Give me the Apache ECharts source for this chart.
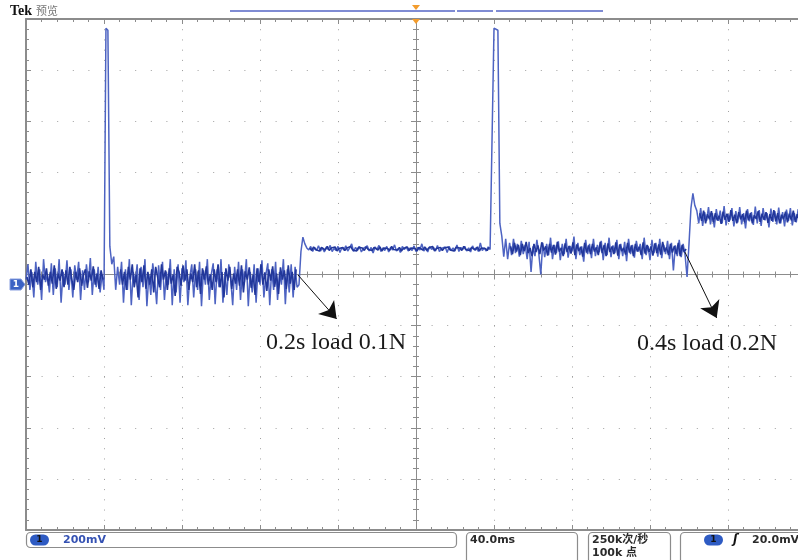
<!DOCTYPE html>
<html><head><meta charset="utf-8">
<script src="https://cdn.jsdelivr.net/npm/echarts@6/dist/echarts.min.js"></script>
<style>html,body{margin:0;padding:0;background:#fff}#c{width:798px;height:560px}</style>
</head><body><div id="c"></div>
<script>
// Time axis: ms relative to trigger (screen centre), 40 ms/div. Value axis: divisions (200 mV/div).
const timeTicksMs = [-200, 200, 40];   // min, max, interval
const voltTicksDiv = [-5, 5, 1];

// Peak-detect samples (outer trace), 1 ms apart, each segment with its start time (ms)
const segA_t0 = -200;
const segA = [-0.1,0.2,-0.3,0.05,-0.45,0.25,-0.2,0.1,-0.5,0.3,
  -0.15,0.0,-0.35,0.22,-0.4,0.12,-0.25,0.3,-0.55,0.05,
  -0.2,0.28,-0.3,0.1,-0.45,0.18,-0.1,0.25,-0.5,0.08,
  -0.3,0.2,-0.15,0.32,-0.4,0.1,-0.25,0.15,-0.35,0.0];
const spike1_t0 = -160;
const spike1 = [-0.3,4.82,4.78,0.55,0.2,0.35,-0.3,0.15];
const segB_t0 = -152;
const segB = [-0.2,0.25,-0.55,0.1,-0.3,0.3,-0.6,0.05,-0.15,0.2,
  -0.5,0.15,-0.25,0.3,-0.62,0.0,-0.4,0.22,-0.1,-0.58,
  0.18,-0.3,0.25,-0.5,0.05,-0.2,0.3,-0.6,0.1,-0.35,
  0.2,-0.55,0.12,-0.15,0.28,-0.6,-0.05,0.2,-0.45,0.1,
  -0.3,0.25,-0.62,0.08,-0.2,0.3,-0.5,0.0,0.22,-0.58,
  0.1,-0.25,0.3,-0.55,0.05,-0.4,0.2,-0.1,-0.6,0.15,
  -0.3,0.25,-0.5,0.1,-0.15,0.3,-0.62,0.05,-0.35,0.2,
  -0.55,0.12,-0.2,0.28,-0.45,0.0,0.22,-0.6,0.1,-0.3,
  0.25,-0.5,0.05,-0.2,0.3,-0.58,0.1,-0.35,0.2,-0.45,
  0.15,-0.25];
const step1_t0 = -60;
const step1 = [-0.2,0.45,0.73,0.6,0.52];
const segC_t0 = -55;
const segC = [0.48,0.55,0.45,0.53,0.47,0.56,0.46,0.52,0.44,0.54,
  0.49,0.57,0.45,0.51,0.47,0.55,0.43,0.53,0.48,0.56,
  0.46,0.52,0.6,0.45,0.53,0.47,0.55,0.44,0.51,0.48,
  0.56,0.46,0.53,0.42,0.54,0.49,0.57,0.45,0.52,0.47,
  0.55,0.44,0.53,0.48,0.58,0.46,0.51,0.43,0.55,0.49,
  0.54,0.46,0.52,0.47,0.56,0.45,0.53,0.48,0.6,0.46,
  0.52,0.44,0.55,0.49,0.53,0.46,0.57,0.45,0.51,0.48,
  0.54,0.43,0.55,0.47,0.52,0.46,0.58,0.45,0.53,0.49,
  0.55,0.46,0.52,0.44,0.56,0.48,0.53,0.45,0.62,0.47,
  0.52,0.46,0.54,0.49];
const spike2_t0 = 39;
const spike2 = [0.48,4.82,4.8,4.78,1.0,0.75,0.35,0.7,0.3];
const segD_t0 = 48;
const segD = [0.62,0.38,0.7,0.42,0.6,0.35,0.66,0.4,0.58,0.3,
  0.64,0.05,0.55,0.36,0.68,0.4,0.0,0.62,0.34,0.6,
  0.38,0.72,0.3,0.58,0.42,0.65,0.28,0.6,0.4,0.7,
  0.33,0.56,0.45,0.74,0.3,0.62,0.38,0.55,0.25,0.68,
  0.4,0.6,0.32,0.7,0.36,0.58,0.44,0.66,0.28,0.62,
  0.38,0.72,0.34,0.57,0.42,0.68,0.3,0.6,0.36,0.64,
  0.26,0.7,0.4,0.58,0.33,0.66,0.45,0.6,0.3,0.72,
  0.38,0.56,0.28,0.68,0.42,0.62,0.35,0.7,0.32,0.58,
  0.4,0.66,0.3,0.62,0.08,0.57,0.36,0.68,0.34,0.6,
  0.38,-0.05];
const step2_t0 = 140;
const step2 = [0.6,1.3,1.59,1.35,1.25];
const segE_t0 = 145;
const segE = [1.0,1.3,0.95,1.22,1.05,1.32,0.98,1.2,0.92,1.28,
  1.05,1.25,1.0,1.34,0.96,1.18,1.06,1.3,0.94,1.24,
  1.02,1.32,0.98,1.2,0.9,1.28,1.04,1.22,0.97,1.33,
  1.0,1.26,0.95,1.3,1.06,1.2,0.92,1.29,1.03,1.24,
  0.98,1.31,1.0,1.22,0.94,1.27,1.05,1.3,0.96,1.2,
  1.02,1.28,0.97,1.25,1.0,1.3];

// Dark core samples, 1 ms apart, starting half a millisecond later
const coreA_t0 = -199.5;
const coreA = [-0.05,-0.2,0.1,-0.25,0.05,-0.15,0.15,-0.3,0.0,-0.1,
  0.12,-0.22,0.05,-0.18,0.18,-0.28,0.02,-0.12,0.1,-0.25,
  0.08,-0.2,0.15,-0.1,-0.3,0.05,-0.15,0.12,-0.22,0.0,
  0.1,-0.26,0.06,-0.12,0.16,-0.2,0.02,-0.28,0.08,-0.1];
const coreB_t0 = -151.5;
const coreB = [0.1,-0.2,0.05,-0.3,0.15,-0.1,0.2,-0.25,0.0,-0.45,
  0.12,-0.15,0.18,-0.28,0.05,-0.2,0.1,-0.35,0.15,-0.05,
  -0.25,0.2,-0.1,0.08,-0.3,0.12,-0.18,0.0,-0.42,0.15,
  0.05,-0.22,0.18,-0.12,0.1,-0.3,0.02,-0.15,0.2,-0.25,
  0.08,-0.38,0.12,-0.1,0.16,-0.2,0.0,-0.3,0.1,-0.15,
  0.2,-0.25,0.05,-0.45,0.12,-0.12,0.15,-0.28,0.02,-0.18,
  0.1,-0.22,0.18,-0.35,0.06,-0.1,0.14,-0.26,0.0,-0.4,
  0.12,-0.15,0.2,-0.2,0.04,-0.32,0.1,-0.12,0.16,-0.24,
  0.02,-0.38,0.14,-0.1,0.08,-0.28,0.18,-0.18,0.05,-0.3,
  0.1];
const coreC_t0 = -54.5;
const coreC = [0.52,0.47,0.54,0.49,0.51,0.46,0.53,0.5,0.48,0.55,
  0.47,0.52,0.49,0.54,0.46,0.51,0.5,0.53,0.47,0.52,
  0.49,0.55,0.48,0.51,0.46,0.53,0.5,0.52,0.47,0.54,
  0.49,0.51,0.47,0.53,0.5,0.48,0.54,0.46,0.52,0.49,
  0.51,0.47,0.55,0.49,0.52,0.48,0.53,0.46,0.51,0.5,
  0.54,0.47,0.52,0.49,0.51,0.46,0.53,0.5,0.48,0.54,
  0.47,0.52,0.49,0.55,0.46,0.51,0.5,0.53,0.47,0.52,
  0.49,0.54,0.48,0.51,0.46,0.53,0.5,0.52,0.47,0.55,
  0.49,0.51,0.47,0.53,0.5,0.48,0.54,0.46,0.52,0.49,
  0.51,0.47,0.53];
const coreD_t0 = 48.5;
const coreD = [0.55,0.4,0.62,0.45,0.58,0.38,0.6,0.46,0.64,0.42,
  0.52,0.36,0.6,0.44,0.57,0.4,0.63,0.47,0.55,0.37,
  0.6,0.43,0.58,0.39,0.64,0.45,0.52,0.36,0.61,0.44,
  0.56,0.41,0.63,0.38,0.59,0.46,0.54,0.35,0.62,0.43,
  0.57,0.4,0.6,0.45,0.53,0.38,0.64,0.42,0.58,0.36,
  0.61,0.44,0.55,0.4,0.63,0.37,0.59,0.46,0.52,0.39,
  0.62,0.43,0.57,0.36,0.6,0.45,0.54,0.38,0.63,0.41,
  0.58,0.44,0.55,0.37,0.61,0.42,0.59,0.39,0.64,0.45,
  0.53,0.38,0.6,0.43,0.56,0.4,0.62,0.36,0.58,0.44,
  0.5];
const coreE_t0 = 145.5;
const coreE = [1.2,1.05,1.25,1.0,1.18,1.08,1.24,1.02,1.2,1.06,
  1.15,0.99,1.23,1.07,1.19,1.03,1.26,1.05,1.17,1.0,
  1.22,1.08,1.18,1.02,1.25,1.06,1.2,1.0,1.16,1.09,
  1.24,1.03,1.19,1.07,1.22,1.01,1.18,1.05,1.26,1.04,
  1.2,1.0,1.17,1.08,1.23,1.02,1.19,1.06,1.25,1.03,
  1.18,1.07,1.21,1.01,1.2];

function build(segs, gaps) {
  const out = [];
  segs.forEach(([t0, vals], k) => {
    if (gaps && k > 0) out.push([t0 - 0.5, null]);
    vals.forEach((v, i) => out.push([t0 + i, v]));
  });
  return out;
}
const traceData = build([[segA_t0,segA],[spike1_t0,spike1],[segB_t0,segB],[step1_t0,step1],
  [segC_t0,segC],[spike2_t0,spike2],[segD_t0,segD],[step2_t0,step2],[segE_t0,segE]], false);
const coreData = build([[coreA_t0,coreA],[coreB_t0,coreB],[coreC_t0,coreC],[coreD_t0,coreD],[coreE_t0,coreE]], true);

const annotations = [
  {text: '0.2s load 0.1N', from: [-60.5, -0.01], to: [-40.7, -0.87]},
  {text: '0.4s load 0.2N', from: [137.9, 0.44], to: [154.2, -0.85]}
];

const GRAY = '#8c8c8c', DOT = '#a0a0a0';
const chart = echarts.init(document.getElementById('c'), null, {renderer: 'canvas'});

function xAx(pos, onZero, inside, split) {
  return {type: 'value', min: timeTicksMs[0], max: timeTicksMs[1], interval: timeTicksMs[2], position: pos,
    axisLine: {show: true, onZero: onZero, onZeroAxisIndex: onZero ? 0 : undefined,
      lineStyle: {color: GRAY, width: onZero ? 1 : 2}},
    axisTick: {show: true, inside: inside, length: 5, lineStyle: {color: GRAY, width: 1}},
    minorTick: {show: true, splitNumber: 5, length: 3, lineStyle: {color: GRAY, width: 1}},
    axisLabel: {show: false},
    splitLine: {show: split, lineStyle: {color: DOT, width: 1, type: [1, 9.22]}},
    minorSplitLine: {show: false}};
}
function yAx(pos, onZero, inside, split) {
  return {type: 'value', min: voltTicksDiv[0], max: voltTicksDiv[1], interval: voltTicksDiv[2], position: pos,
    axisLine: {show: true, onZero: onZero, onZeroAxisIndex: onZero ? 0 : undefined,
      lineStyle: {color: GRAY, width: onZero ? 1 : 2}},
    axisTick: {show: true, inside: inside, length: 5, lineStyle: {color: GRAY, width: 1}},
    minorTick: {show: true, splitNumber: 5, length: 3, lineStyle: {color: GRAY, width: 1}},
    axisLabel: {show: false},
    splitLine: {show: split, lineStyle: {color: DOT, width: 1, type: [1, 14.6]}},
    minorSplitLine: {show: false}};
}

const textFontS = "bold 11px 'DejaVu Sans', 'Noto Sans CJK SC'";
function boxRect(x, y, w, h) {
  return {type: 'rect', shape: {x: x, y: y, width: w, height: h, r: 4}, silent: true,
    style: {fill: 'none', stroke: GRAY, lineWidth: 1.2}};
}
function pill(x, y) {
  return [{type: 'rect', shape: {x: x, y: y, width: 19, height: 11, r: 5.5}, silent: true, style: {fill: '#2e5bc3'}},
    {type: 'text', x: x + 9.5, y: y + 5.5, silent: true, style: {text: '1', font: "bold 9px 'DejaVu Sans'", fill: '#111', align: 'center', verticalAlign: 'middle'}}];
}

const option = {
  animation: false,
  backgroundColor: '#fff',
  grid: {left: 26, top: 19, width: 780, height: 511, outerBoundsMode: 'none', containLabel: false},
  xAxis: [xAx('bottom', false, true, true), xAx('top', false, true, false),
          xAx('bottom', true, true, false), xAx('top', true, true, false)],
  yAxis: [yAx('left', false, true, true), yAx('right', false, true, false),
          yAx('left', true, true, false), yAx('right', true, true, false)],
  series: [{
    type: 'line', xAxisIndex: 0, yAxisIndex: 0, data: traceData, showSymbol: false, sampling: 'none',
    lineStyle: {color: '#4d63c2', width: 1.5}, z: 3,
    markLine: {silent: true, symbol: ['none', 'arrow'], symbolSize: 16, animation: false,
      lineStyle: {color: '#111', width: 1, type: 'solid'}, itemStyle: {color: '#111'}, label: {show: false},
      data: annotations.map(a => [{coord: a.from}, {coord: a.to}])}
  }, {
    type: 'line', xAxisIndex: 0, yAxisIndex: 0, data: coreData, showSymbol: false, sampling: 'none',
    connectNulls: false, lineStyle: {color: '#22379a', width: 1.6}, z: 4
  }],
  graphic: [
    {type: 'text', x: 10, y: 11, silent: true, style: {text: 'Tek', font: "bold 14px 'Liberation Serif'", fill: '#111', verticalAlign: 'middle'}},
    {type: 'text', x: 36, y: 11, silent: true, style: {text: '预览', font: "11px 'Noto Sans CJK SC'", fill: '#777', verticalAlign: 'middle'}},
    {type: 'line', silent: true, shape: {x1: 230, y1: 11, x2: 455, y2: 11}, style: {stroke: '#5565c4', lineWidth: 1.5}},
    {type: 'line', silent: true, shape: {x1: 457, y1: 11, x2: 493, y2: 11}, style: {stroke: '#5565c4', lineWidth: 1.5}},
    {type: 'line', silent: true, shape: {x1: 496, y1: 11, x2: 603, y2: 11}, style: {stroke: '#5565c4', lineWidth: 1.5}},
    {type: 'polygon', silent: true, shape: {points: [[412, 5], [420, 5], [416, 10]]}, style: {fill: '#f39c2c'}},
    {type: 'polygon', silent: true, shape: {points: [[412, 19], [420, 19], [416, 24]]}, style: {fill: '#f39c2c'}, z: 10},
    {type: 'polygon', silent: true, shape: {points: [[10, 279], [21, 279], [25, 284.5], [21, 290], [10, 290]]}, style: {fill: '#3b62c4', stroke: '#8aa0e0', lineWidth: 1}},
    {type: 'text', x: 16, y: 284.5, silent: true, style: {text: '1', font: "bold 9px 'DejaVu Sans'", fill: '#fff', align: 'center', verticalAlign: 'middle'}},
    {type: 'text', x: 266, y: 342.5, silent: true, style: {text: annotations[0].text, font: "24px 'Liberation Serif'", fill: '#1a1a1a', verticalAlign: 'middle'}},
    {type: 'text', x: 637, y: 344, silent: true, style: {text: annotations[1].text, font: "24px 'Liberation Serif'", fill: '#1a1a1a', verticalAlign: 'middle'}},
    boxRect(26.5, 532.5, 430, 15),
    ...pill(30, 534.5),
    {type: 'text', x: 63, y: 540, silent: true, style: {text: '200mV', font: textFontS, fill: '#3552b3', verticalAlign: 'middle'}},
    boxRect(466.5, 532.5, 111, 35),
    {type: 'text', x: 470, y: 540, silent: true, style: {text: '40.0ms', font: textFontS, fill: '#2a2a2a', verticalAlign: 'middle'}},
    boxRect(588.5, 532.5, 82, 35),
    {type: 'text', x: 592, y: 540, silent: true, style: {text: '250k次/秒', font: textFontS, fill: '#2a2a2a', verticalAlign: 'middle'}},
    {type: 'text', x: 592, y: 553, silent: true, style: {text: '100k 点', font: textFontS, fill: '#2a2a2a', verticalAlign: 'middle'}},
    boxRect(680.5, 532.5, 130, 35),
    ...pill(704, 534.5),
    {type: 'text', x: 733, y: 540, silent: true, style: {text: 'ʃ', font: "bold italic 12px 'DejaVu Sans'", fill: '#111', verticalAlign: 'middle'}},
    {type: 'text', x: 752, y: 540, silent: true, style: {text: '20.0mV', font: textFontS, fill: '#2a2a2a', verticalAlign: 'middle'}}
  ]
};
chart.setOption(option);
</script></body></html>
